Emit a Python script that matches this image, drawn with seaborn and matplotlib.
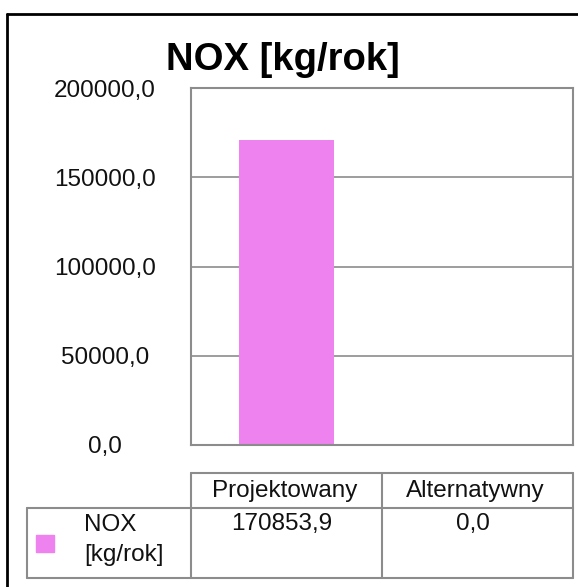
import matplotlib
matplotlib.use("Agg")
import matplotlib.pyplot as plt
import seaborn as sns
from matplotlib.lines import Line2D
from matplotlib.patches import Rectangle

# chart data
title = "NOX [kg/rok]"
series_name = "NOX\n[kg/rok]"
scenarios = ["Projektowany", "Alternatywny"]
nox_values = [170853.9, 0.0]
y_ticks = [0, 50000, 100000, 150000, 200000]

W, H = 578, 587
bar_color = "#EE82EE"
grid_color = "#8c8c8c"
font = ["Liberation Sans", "DejaVu Sans"]


def fx(px):
    return px / W


def fy(py):
    return 1 - py / H


def fmt(v):
    return f"{v:.1f}".replace(".", ",")


sns.set_theme(style="white")
plt.rcParams["font.family"] = font

fig = plt.figure(figsize=(W / 100, H / 100), dpi=100)
fig.patch.set_facecolor("white")

# plot area
left, right, top, bottom = 191, 573, 88, 445
ax = fig.add_axes([fx(left), fy(bottom), fx(right - left), (bottom - top) / H])
sns.barplot(x=scenarios, y=nox_values, color=bar_color, width=0.5,
            saturation=1, linewidth=0, ax=ax)
ax.set_ylim(0, 200000)
ax.set_yticks(y_ticks)
ax.set_yticklabels([fmt(v) for v in y_ticks], fontsize=17.5, color="#111111")
for lbl in ax.get_yticklabels():
    lbl.set_horizontalalignment("center")
ax.tick_params(axis="y", length=0, pad=62)
ax.set_xticks([])
ax.set_xlabel("")
ax.set_ylabel("")
ax.grid(axis="y", color=grid_color, linewidth=1.2)
ax.set_axisbelow(True)
for sp in ax.spines.values():
    sp.set_color(grid_color)
    sp.set_linewidth(1.5)

# title
fig.text(fx(283), fy(70), title, ha="center", va="baseline",
         fontsize=27.5, fontweight="bold", color="black")

# outer frame (top and left edges are what is visible)
fig.add_artist(Line2D([fx(7), 1.0], [fy(14), fy(14)], color="black", linewidth=2))
fig.add_artist(Line2D([fx(7), fx(7)], [fy(14), 0.0], color="black", linewidth=2))

# data table below the chart
col_edges = [191, 382, 573]
row_left = 27
head_top, head_bot, row_bot = 473, 508, 578
lw = 1.5


def hline(x0, x1, y):
    fig.add_artist(Line2D([fx(x0), fx(x1)], [fy(y), fy(y)], color=grid_color, linewidth=lw))


def vline(x, y0, y1):
    fig.add_artist(Line2D([fx(x), fx(x)], [fy(y0), fy(y1)], color=grid_color, linewidth=lw))


hline(col_edges[0], col_edges[-1], head_top)
hline(row_left, col_edges[-1], head_bot)
hline(row_left, col_edges[-1], row_bot)
for x in col_edges:
    vline(x, head_top, row_bot)
vline(row_left, head_bot, row_bot)

for i, (name, val) in enumerate(zip(scenarios, nox_values)):
    cx = (col_edges[i] + col_edges[i + 1]) / 2
    fig.text(fx(cx - 2), fy((head_top + head_bot) / 2 + 1), name, ha="center", va="center",
             fontsize=17.5, color="#111111")
    fig.text(fx(cx - 5), fy(head_bot + 5), fmt(val), ha="center", va="top",
             fontsize=17.5, color="#111111")

# legend key + series name
fig.add_artist(Rectangle((fx(36), fy(552)), fx(18), 17 / H, color=bar_color,
                         transform=fig.transFigure))
fig.text(fx(84), fy(head_bot + 6), series_name, ha="left", va="top",
         fontsize=17.5, color="#111111", linespacing=1.45)

fig.savefig("out.png", dpi=100)
